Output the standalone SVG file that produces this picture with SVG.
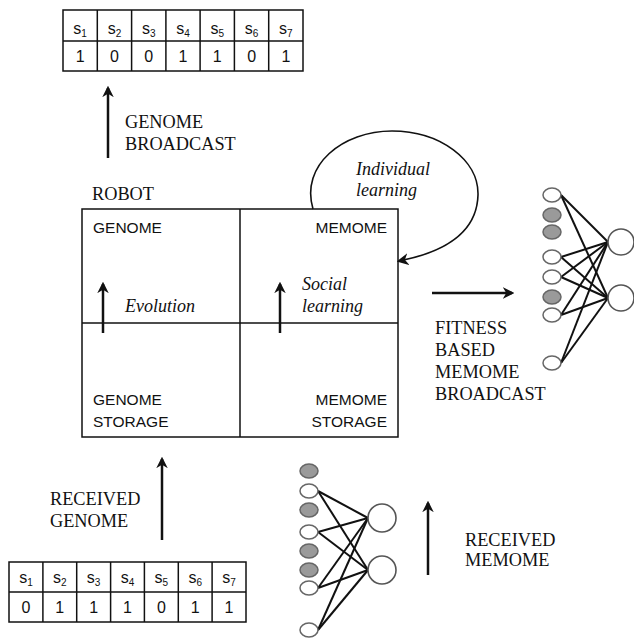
<svg xmlns="http://www.w3.org/2000/svg" width="634" height="639" viewBox="0 0 634 639">
<defs>
<style>
.serif{font-family:"Liberation Serif","Times New Roman",serif;font-size:18.3px;fill:#111}
.it{font-style:italic;font-size:18px}
.sans{font-family:"Liberation Sans",Arial,sans-serif;font-size:15.5px;fill:#111}
.cell{font-family:"Liberation Sans",Arial,sans-serif;font-size:16px;fill:#111;text-anchor:middle}
.sub{font-size:10px}
.grid{fill:none;stroke:#111;stroke-width:1.5}
.arr{fill:none;stroke:#111;stroke-width:2.5;marker-end:url(#ah)}
.loop{fill:none;stroke:#111;stroke-width:1.6;marker-end:url(#ah2)}
.nin{fill:#fff;stroke:#666;stroke-width:1.5}
.ngr{fill:#9a9a9a;stroke:#666;stroke-width:1.5}
.nout{fill:#fff;stroke:#555;stroke-width:1.6}
.w{stroke:#111;stroke-width:2}
</style>
<marker id="ah" viewBox="0 0 10 10" refX="8" refY="5" markerWidth="4.6" markerHeight="4.6" orient="auto" markerUnits="strokeWidth">
<path d="M0,0 L10,5 L0,10 L3,5 z" fill="#111"/>
</marker>
<marker id="ah2" viewBox="0 0 10 10" refX="8" refY="5" markerWidth="7.5" markerHeight="7.5" orient="auto" markerUnits="strokeWidth">
<path d="M0,0 L10,5 L0,10 L3,5 z" fill="#111"/>
</marker>
</defs>
<rect width="634" height="639" fill="#fff"/>

<g id="top-genome-table">
<rect class="grid" x="63" y="10" width="240" height="61"/>
<line class="grid" x1="63" y1="41" x2="303" y2="41"/>
<line class="grid" x1="97.3" y1="10" x2="97.3" y2="71"/>
<line class="grid" x1="131.6" y1="10" x2="131.6" y2="71"/>
<line class="grid" x1="165.9" y1="10" x2="165.9" y2="71"/>
<line class="grid" x1="200.1" y1="10" x2="200.1" y2="71"/>
<line class="grid" x1="234.4" y1="10" x2="234.4" y2="71"/>
<line class="grid" x1="268.7" y1="10" x2="268.7" y2="71"/>
<text class="cell" x="80" y="34">s<tspan class="sub" dy="3">1</tspan></text>
<text class="cell" x="114.5" y="34">s<tspan class="sub" dy="3">2</tspan></text>
<text class="cell" x="148.8" y="34">s<tspan class="sub" dy="3">3</tspan></text>
<text class="cell" x="183" y="34">s<tspan class="sub" dy="3">4</tspan></text>
<text class="cell" x="217.3" y="34">s<tspan class="sub" dy="3">5</tspan></text>
<text class="cell" x="251.6" y="34">s<tspan class="sub" dy="3">6</tspan></text>
<text class="cell" x="285.9" y="34">s<tspan class="sub" dy="3">7</tspan></text>
<text class="cell" x="80.2" y="62">1</text>
<text class="cell" x="114.5" y="62">0</text>
<text class="cell" x="148.8" y="62">0</text>
<text class="cell" x="183" y="62">1</text>
<text class="cell" x="217.3" y="62">1</text>
<text class="cell" x="251.6" y="62">0</text>
<text class="cell" x="285.9" y="62">1</text>
</g>

<g id="bottom-genome-table">
<rect class="grid" x="9" y="562" width="237" height="60"/>
<line class="grid" x1="9" y1="592" x2="246" y2="592"/>
<line class="grid" x1="42.9" y1="562" x2="42.9" y2="622"/>
<line class="grid" x1="76.7" y1="562" x2="76.7" y2="622"/>
<line class="grid" x1="110.6" y1="562" x2="110.6" y2="622"/>
<line class="grid" x1="144.4" y1="562" x2="144.4" y2="622"/>
<line class="grid" x1="178.3" y1="562" x2="178.3" y2="622"/>
<line class="grid" x1="212.1" y1="562" x2="212.1" y2="622"/>
<text class="cell" x="26" y="583">s<tspan class="sub" dy="3">1</tspan></text>
<text class="cell" x="59.8" y="583">s<tspan class="sub" dy="3">2</tspan></text>
<text class="cell" x="93.6" y="583">s<tspan class="sub" dy="3">3</tspan></text>
<text class="cell" x="127.5" y="583">s<tspan class="sub" dy="3">4</tspan></text>
<text class="cell" x="161.4" y="583">s<tspan class="sub" dy="3">5</tspan></text>
<text class="cell" x="195.2" y="583">s<tspan class="sub" dy="3">6</tspan></text>
<text class="cell" x="229" y="583">s<tspan class="sub" dy="3">7</tspan></text>
<text class="cell" x="26" y="613">0</text>
<text class="cell" x="59.8" y="613">1</text>
<text class="cell" x="93.6" y="613">1</text>
<text class="cell" x="127.5" y="613">1</text>
<text class="cell" x="161.4" y="613">0</text>
<text class="cell" x="195.2" y="613">1</text>
<text class="cell" x="229" y="613">1</text>
</g>

<g id="robot">
<text class="serif" x="92" y="200">ROBOT</text>
<rect class="grid" x="82" y="209" width="316" height="228"/>
<line class="grid" x1="82" y1="323" x2="398" y2="323"/>
<line class="grid" x1="240" y1="209" x2="240" y2="437"/>
<text class="sans" x="93" y="233">GENOME</text>
<text class="sans" x="387" y="233" text-anchor="end">MEMOME</text>
<text class="sans" x="93" y="405">GENOME</text>
<text class="sans" x="93" y="427">STORAGE</text>
<text class="sans" x="387" y="405" text-anchor="end">MEMOME</text>
<text class="sans" x="387" y="427" text-anchor="end">STORAGE</text>
<text class="serif it" x="125" y="312">Evolution</text>
<text class="serif it" x="302" y="290">Social</text>
<text class="serif it" x="302" y="312">learning</text>
</g>

<g id="labels">
<text class="serif" x="125" y="128">GENOME</text>
<text class="serif" x="125" y="150">BROADCAST</text>
<text class="serif" x="50" y="505">RECEIVED</text>
<text class="serif" x="50" y="527">GENOME</text>
<text class="serif" x="435" y="334">FITNESS</text>
<text class="serif" x="435" y="356">BASED</text>
<text class="serif" x="435" y="378">MEMOME</text>
<text class="serif" x="435" y="400">BROADCAST</text>
<text class="serif" x="465" y="546">RECEIVED</text>
<text class="serif" x="465" y="566">MEMOME</text>
<text class="serif it" x="356" y="175">Individual</text>
<text class="serif it" x="356" y="196">learning</text>
</g>

<g id="connectors">
<line class="arr" x1="108" y1="158" x2="108" y2="88"/>
<line class="arr" x1="103" y1="333" x2="103" y2="284"/>
<line class="arr" x1="280" y1="333" x2="280" y2="284"/>
<line class="arr" x1="162" y1="540" x2="162" y2="459"/>
<line class="arr" x1="432" y1="293" x2="512" y2="293"/>
<line class="arr" x1="428" y1="575" x2="428" y2="503"/>
<path class="loop" d="M313,209 C300,165 343,131 392,131 C440,131 479,160 478,195 C477,232 445,252 399,261"/>
</g>

<g id="net-broadcast">
<g class="w">
<line x1="561" y1="195" x2="608" y2="242"/><line x1="561" y1="195" x2="608" y2="298"/>
<line x1="561" y1="257" x2="608" y2="242"/><line x1="561" y1="257" x2="608" y2="298"/>
<line x1="561" y1="277" x2="608" y2="242"/><line x1="561" y1="277" x2="608" y2="298"/>
<line x1="561" y1="315" x2="608" y2="242"/><line x1="561" y1="315" x2="608" y2="298"/>
<line x1="561" y1="363" x2="608" y2="242"/><line x1="561" y1="363" x2="608" y2="298"/>
</g>
<ellipse class="nin" cx="552" cy="195" rx="9" ry="7"/>
<ellipse class="ngr" cx="552" cy="215" rx="9" ry="7"/>
<ellipse class="ngr" cx="552" cy="232" rx="9" ry="7"/>
<ellipse class="nin" cx="552" cy="257" rx="9" ry="7"/>
<ellipse class="nin" cx="552" cy="277" rx="9" ry="7"/>
<ellipse class="ngr" cx="552" cy="297" rx="9" ry="7"/>
<ellipse class="nin" cx="552" cy="315" rx="9" ry="7"/>
<ellipse class="nin" cx="552" cy="363" rx="9" ry="7"/>
<circle class="nout" cx="621" cy="242" r="13"/>
<circle class="nout" cx="621" cy="298" r="13"/>
</g>

<g id="net-received">
<g class="w">
<line x1="318" y1="491" x2="368" y2="518"/><line x1="318" y1="491" x2="368" y2="570"/>
<line x1="318" y1="532" x2="368" y2="518"/><line x1="318" y1="532" x2="368" y2="570"/>
<line x1="318" y1="588" x2="368" y2="518"/><line x1="318" y1="588" x2="368" y2="570"/>
<line x1="318" y1="630" x2="368" y2="518"/><line x1="318" y1="630" x2="368" y2="570"/>
</g>
<ellipse class="ngr" cx="309" cy="471" rx="9" ry="7"/>
<ellipse class="nin" cx="309" cy="491" rx="9" ry="7"/>
<ellipse class="ngr" cx="309" cy="510" rx="9" ry="7"/>
<ellipse class="nin" cx="309" cy="532" rx="9" ry="7"/>
<ellipse class="ngr" cx="309" cy="551" rx="9" ry="7"/>
<ellipse class="ngr" cx="309" cy="570" rx="9" ry="7"/>
<ellipse class="nin" cx="309" cy="588" rx="9" ry="7"/>
<ellipse class="nin" cx="309" cy="630" rx="9" ry="7"/>
<circle class="nout" cx="382" cy="518" r="14"/>
<circle class="nout" cx="382" cy="570" r="14"/>
</g>
</svg>
